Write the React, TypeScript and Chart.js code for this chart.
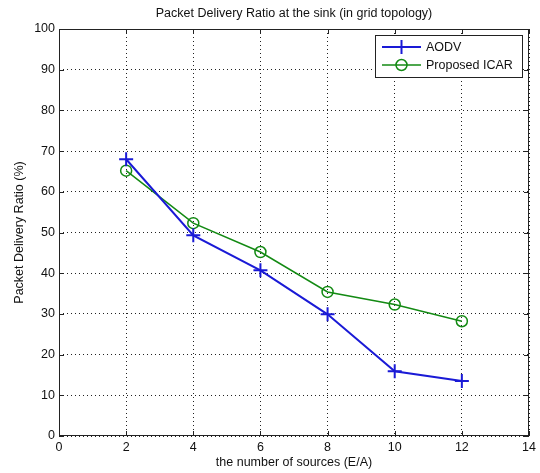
import React, { useEffect, useRef } from "react";
import { Chart, registerables } from "chart.js";

Chart.register(...registerables);

const TITLE = "Packet Delivery Ratio at the sink (in grid topology)";
const X_LABEL = "the number of sources (E/A)";
const Y_LABEL = "Packet Delivery Ratio (%)";
const SOURCES = [2, 4, 6, 8, 10, 12];
const AODV = [68, 49.3, 40.7, 29.9, 15.9, 13.5];
const ICAR = [65.2, 52.3, 45.2, 35.4, 32.3, 28.2];
const SERIES_NAMES = ["AODV", "Proposed ICAR"];
const X_TICKS = [0, 2, 4, 6, 8, 10, 12, 14];
const Y_TICKS = [0, 10, 20, 30, 40, 50, 60, 70, 80, 90, 100];

const BLUE = "#1a1ad6";
const GREEN = "#138a13";
const FONT = "'Liberation Sans', Arial, sans-serif";

const matlabPlugin = {
  id: "matlabDecor",
  afterDatasetsDraw(chart: any) {
    const { ctx, chartArea: a, scales } = chart;
    const xs = scales.x;
    const ys = scales.y;
    ctx.save();
    ctx.strokeStyle = "#222";
    ctx.lineWidth = 1;
    ctx.setLineDash([]);
    ctx.strokeRect(a.left + 0.5, a.top + 0.5, a.right - a.left - 1, a.bottom - a.top - 1);
    ctx.beginPath();
    X_TICKS.forEach((v) => {
      const px = Math.round(xs.getPixelForValue(v)) + 0.5;
      ctx.moveTo(px, a.bottom);
      ctx.lineTo(px, a.bottom - 5);
      ctx.moveTo(px, a.top);
      ctx.lineTo(px, a.top + 5);
    });
    Y_TICKS.forEach((v) => {
      const py = Math.round(ys.getPixelForValue(v)) + 0.5;
      ctx.moveTo(a.left, py);
      ctx.lineTo(a.left + 5, py);
      ctx.moveTo(a.right, py);
      ctx.lineTo(a.right - 5, py);
    });
    ctx.stroke();

    ctx.fillStyle = "#111";
    ctx.font = `12.5px ${FONT}`;
    ctx.textAlign = "center";
    ctx.textBaseline = "middle";
    const cx = (a.left + a.right) / 2;
    ctx.fillText(TITLE, cx, 14);
    ctx.fillText(X_LABEL, cx, 463);
    ctx.save();
    ctx.translate(20, (a.top + a.bottom) / 2);
    ctx.rotate(-Math.PI / 2);
    ctx.fillText(Y_LABEL, 0, 0);
    ctx.restore();

    const lx = 375.5, ly = 35.5, lw = 147, lh = 42;
    ctx.fillStyle = "#fff";
    ctx.fillRect(lx, ly, lw, lh);
    ctx.strokeStyle = "#222";
    ctx.strokeRect(lx, ly, lw, lh);
    const rows = [
      { y: 47, color: BLUE, lw: 2, marker: "cross", name: SERIES_NAMES[0] },
      { y: 65, color: GREEN, lw: 1.5, marker: "circle", name: SERIES_NAMES[1] },
    ];
    ctx.font = `12.5px ${FONT}`;
    rows.forEach((r) => {
      ctx.strokeStyle = r.color;
      ctx.lineWidth = r.lw;
      ctx.beginPath();
      ctx.moveTo(382, r.y);
      ctx.lineTo(421, r.y);
      ctx.stroke();
      ctx.beginPath();
      if (r.marker === "cross") {
        ctx.moveTo(401.5, r.y - 7);
        ctx.lineTo(401.5, r.y + 7);
      } else {
        ctx.arc(401.5, r.y, 5.5, 0, Math.PI * 2);
      }
      ctx.stroke();
      ctx.fillStyle = "#111";
      ctx.textAlign = "left";
      ctx.fillText(r.name, 426, r.y + 1);
    });
    ctx.restore();
  },
};

export default function App() {
  const ref = useRef<HTMLCanvasElement>(null);
  useEffect(() => {
    document.body.style.margin = "0";
    const chart = new Chart(ref.current!, {
      type: "line",
      data: {
        datasets: [
          {
            label: SERIES_NAMES[0],
            data: SOURCES.map((x, i) => ({ x, y: AODV[i] })),
            borderColor: BLUE,
            backgroundColor: BLUE,
            borderWidth: 2,
            pointStyle: "cross",
            pointRadius: 7,
            pointBorderWidth: 2,
            pointBorderColor: BLUE,
            tension: 0,
          },
          {
            label: SERIES_NAMES[1],
            data: SOURCES.map((x, i) => ({ x, y: ICAR[i] })),
            borderColor: GREEN,
            backgroundColor: "rgba(0,0,0,0)",
            borderWidth: 1.5,
            pointStyle: "circle",
            pointRadius: 5.5,
            pointBorderWidth: 1.5,
            pointBorderColor: GREEN,
            pointBackgroundColor: "rgba(0,0,0,0)",
            tension: 0,
          },
        ],
      },
      options: {
        animation: false,
        responsive: false,
        devicePixelRatio: 1,
        layout: { padding: { top: 29, right: 11, left: 0, bottom: 0 } },
        plugins: { legend: { display: false }, title: { display: false }, tooltip: { enabled: false } },
        scales: {
          x: {
            type: "linear",
            min: 0,
            max: 14,
            afterBuildTicks: (s: any) => {
              s.ticks = X_TICKS.map((v) => ({ value: v }));
            },
            afterFit: (s: any) => {
              s.height = 37;
            },
            grid: { color: "#222", lineWidth: 1, drawTicks: false },
            border: { display: false, dash: [1, 3] },
            ticks: { color: "#111", font: { family: FONT, size: 12.5 }, padding: 4, maxRotation: 0 },
          },
          y: {
            type: "linear",
            min: 0,
            max: 100,
            afterBuildTicks: (s: any) => {
              s.ticks = Y_TICKS.map((v) => ({ value: v }));
            },
            afterFit: (s: any) => {
              s.width = 59;
            },
            grid: { color: "#222", lineWidth: 1, drawTicks: false },
            border: { display: false, dash: [1, 3] },
            ticks: { color: "#111", font: { family: FONT, size: 12.5 }, padding: 4 },
          },
        },
      } as any,
      plugins: [matlabPlugin],
    });
    return () => chart.destroy();
  }, []);
  return (
    <div style={{ width: 540, height: 473, background: "#fff" }}>
      <canvas ref={ref} width={540} height={473} style={{ display: "block" }} />
    </div>
  );
}
